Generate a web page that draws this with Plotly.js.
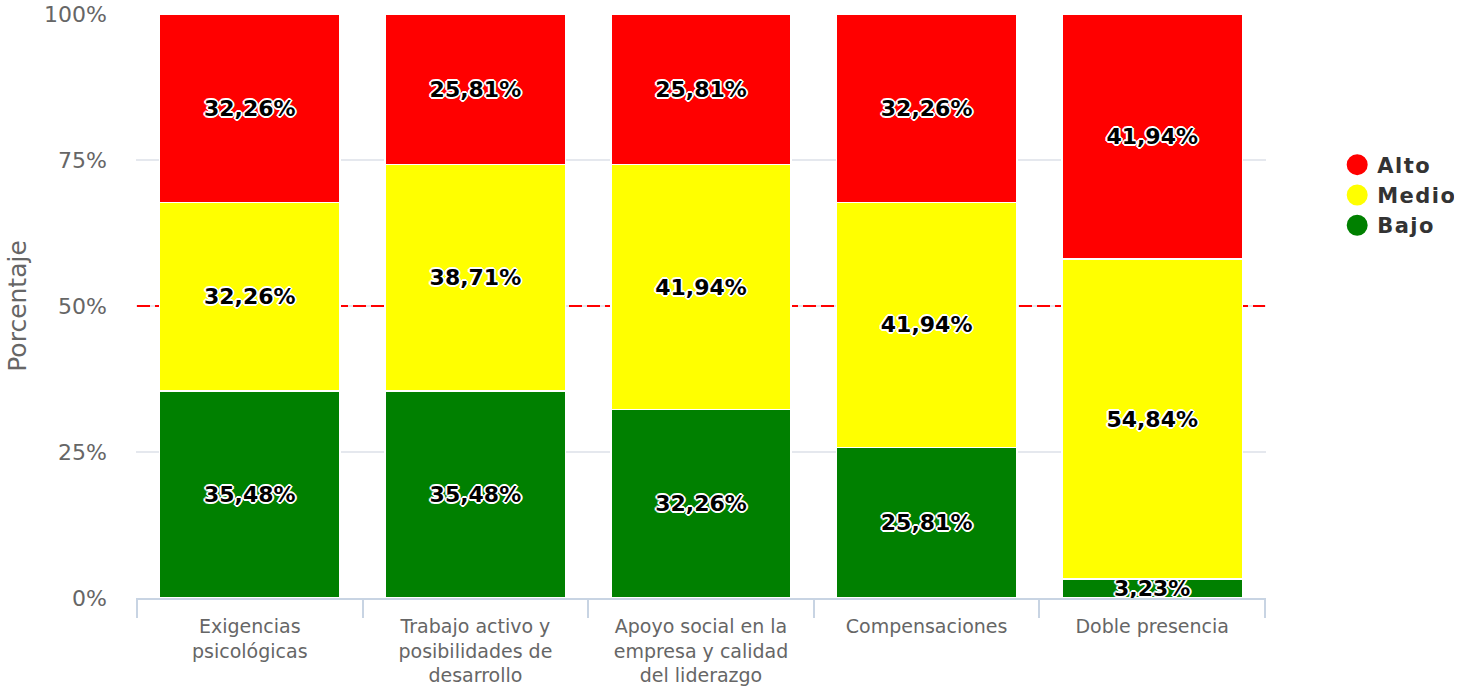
<!DOCTYPE html>
<html>
<head>
<meta charset="utf-8">
<script src="https://cdn.plot.ly/plotly-3.0.1.min.js"></script>
<style>html,body{margin:0;padding:0;background:#fff;}#chart{width:1481px;height:693px;}
#chart .legendtext{letter-spacing:1.5px;}</style>
</head>
<body>
<div id="chart"></div>
<script>
const categories = [
  "Exigencias<br>psicológicas",
  "Trabajo activo y<br>posibilidades de<br>desarrollo",
  "Apoyo social en la<br>empresa y calidad<br>del liderazgo",
  "Compensaciones",
  "Doble presencia"
];
const bajo  = [35.48, 35.48, 32.26, 25.81, 3.23];
const medio = [32.26, 38.71, 41.94, 41.94, 54.84];
const alto  = [32.26, 25.81, 25.81, 32.26, 41.94];
const yTicks = [0, 25, 50, 75, 100];
const threshold = 50;

const fmt = v => v.toFixed(2).replace('.', ',') + '%';
const FONT = 'DejaVu Sans, Verdana, sans-serif';

function barTrace(name, vals, color) {
  return {
    type: 'bar', name: name, x: categories, y: vals,
    marker: {color: color, line: {color: '#ffffff', width: 1.5}},
    text: vals.map(fmt), textposition: 'inside', insidetextanchor: 'middle',
    textangle: 0, constraintext: 'none',
    textfont: {family: FONT, size: 22, weight: 'bold', color: '#000000',
      shadow: '1px 1px 0 #fff, -1px -1px 0 #fff, 1px -1px 0 #fff, -1px 1px 0 #fff, 0 2px 0 #fff, 2px 0 0 #fff, 0 -2px 0 #fff, -2px 0 0 #fff'},
    hoverinfo: 'skip', showlegend: false
  };
}
function legendTrace(name, color) {
  return {type: 'scatter', mode: 'markers', name: name, x: [null], y: [null],
    marker: {color: color, size: 16, symbol: 'circle', line: {color: color, width: 5}},
    showlegend: true, hoverinfo: 'skip'};
}

const data = [
  barTrace('Bajo', bajo, 'green'),
  barTrace('Medio', medio, 'yellow'),
  barTrace('Alto', alto, 'red'),
  legendTrace('Alto', 'red'),
  legendTrace('Medio', 'yellow'),
  legendTrace('Bajo', 'green')
];

const layout = {
  width: 1481, height: 693,
  margin: {l: 136, r: 215, t: 14, b: 95},
  barmode: 'stack', bargap: 0.2,
  paper_bgcolor: '#fff', plot_bgcolor: '#fff',
  font: {family: FONT, color: '#666'},
  xaxis: {
    type: 'category', tickson: 'boundaries', ticks: 'outside', ticklen: 18,
    tickcolor: '#c8d4e3', tickwidth: 2, showline: true, linecolor: '#c8d4e3', linewidth: 2,
    showgrid: false, tickfont: {size: 19, color: '#666'}, ticklabelstandoff: 10
  },
  yaxis: {
    range: [0, 100], tickvals: yTicks, ticktext: yTicks.map(v => v + '%'),
    showgrid: true, gridcolor: '#e5e8ee', gridwidth: 1.5, zeroline: false,
    tickfont: {size: 22, color: '#666'}, ticklabelstandoff: 28,
    title: {text: 'Porcentaje', font: {size: 25, color: '#666'}, standoff: 10}
  },
  legend: {
    x: 1.063, xanchor: 'left', y: 0.69, yanchor: 'middle', traceorder: 'normal',
    font: {size: 21, color: '#333', weight: 'bold'}, itemsizing: 'trace', tracegroupgap: 0
  },
  shapes: [{
    type: 'line', xref: 'x', x0: -0.5, x1: categories.length - 0.5, yref: 'y', y0: threshold, y1: threshold,
    line: {color: 'red', width: 2, dash: '13px,5px'}, layer: 'between'
  }]
};

Plotly.newPlot('chart', data, layout, {displayModeBar: false, staticPlot: true});
</script>
</body>
</html>
